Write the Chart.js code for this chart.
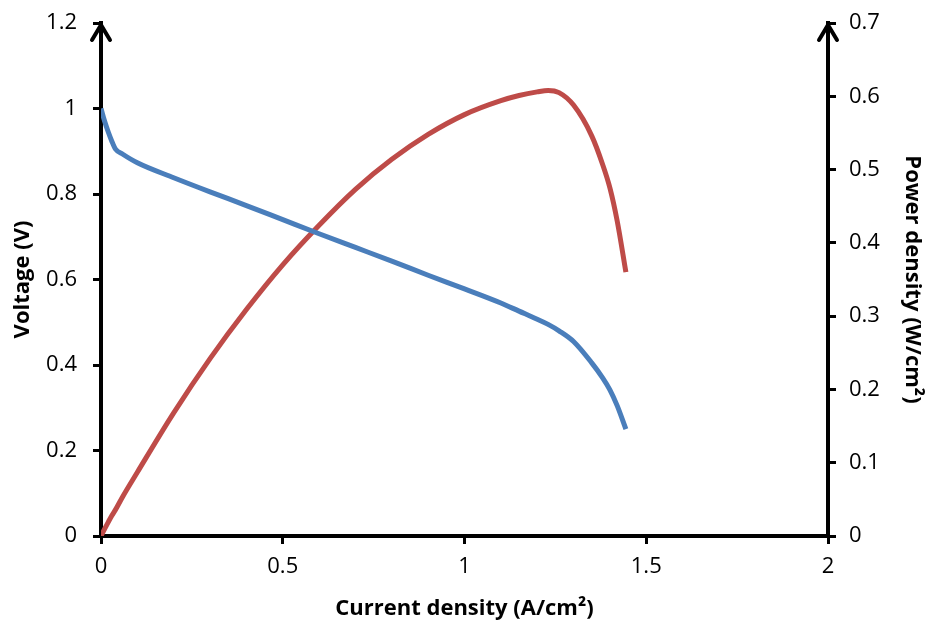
<!DOCTYPE html>
<html>
<head>
<meta charset="utf-8">
<script src="https://cdn.jsdelivr.net/npm/chart.js@4"></script>
<style>
  body { margin: 0; background: #fff; }
  #wrap { width: 928px; height: 626px; }
</style>
</head>
<body>
<div id="wrap"><canvas id="chart"></canvas></div>
<script>
// current density (A/cm2)
const current = [0, 0.01, 0.02, 0.03, 0.04, 0.06, 0.1, 0.2, 0.3, 0.4, 0.5, 0.6, 0.7, 0.8, 0.9, 1.0, 1.1, 1.15, 1.2, 1.23, 1.26, 1.3, 1.35, 1.38, 1.4, 1.42, 1.444];
// voltage (V)
const voltage = [1.0, 0.97, 0.945, 0.923, 0.905, 0.893, 0.873, 0.838, 0.805, 0.773, 0.74, 0.707, 0.675, 0.643, 0.61, 0.578, 0.545, 0.526, 0.507, 0.495, 0.48, 0.455, 0.405, 0.37, 0.342, 0.305, 0.25];
// power density (W/cm2)
const power = [0, 0.0097, 0.019, 0.028, 0.036, 0.054, 0.087, 0.168, 0.242, 0.309, 0.37, 0.424, 0.473, 0.514, 0.548, 0.575, 0.594, 0.601, 0.606, 0.608, 0.605, 0.588, 0.546, 0.507, 0.475, 0.43, 0.36];

const xTicks = [0, 0.5, 1, 1.5, 2];

const tickFont = { family: "'Open Sans', 'Noto Sans', sans-serif", size: 22 };
const titleFont = { family: "'Open Sans', 'Noto Sans', sans-serif", size: 22, weight: 'bold' };
const fmt = v => String(Math.round(v * 10) / 10);

// fixed box sizes so the plot area sits where it does in the picture
const fitY = w => s => { s.width = w; s.paddingTop = 0; s.paddingBottom = 0; };

// arrow heads on top of both y axes
const arrows = {
    id: 'arrows',
    afterDraw(chart) {
        const c = chart.ctx;
        const top = chart.chartArea.top;
        [chart.chartArea.left, chart.chartArea.right].forEach(x => {
            c.save();
            c.strokeStyle = '#000';
            c.lineWidth = 4;
            c.lineCap = 'round';
            c.beginPath();
            c.moveTo(x - 9, top + 17);
            c.lineTo(x, top + 2);
            c.lineTo(x + 9, top + 17);
            c.stroke();
            c.restore();
        });
    }
};

const ctx = document.getElementById('chart').getContext('2d');
new Chart(ctx, {
    type: 'line',
    data: {
        datasets: [{
            label: 'Voltage',
            data: current.map((x, i) => ({ x: x, y: voltage[i] })),
            borderColor: '#4a7ebb',
            borderWidth: 5,
            pointRadius: 0,
            cubicInterpolationMode: 'monotone',
            yAxisID: 'y'
        }, {
            label: 'Power density',
            data: current.map((x, i) => ({ x: x, y: power[i] })),
            borderColor: '#be4b48',
            borderWidth: 5,
            pointRadius: 0,
            cubicInterpolationMode: 'monotone',
            yAxisID: 'y1'
        }]
    },
    options: {
        responsive: true,
        maintainAspectRatio: false,
        animation: false,
        layout: { padding: { top: 23, right: 0, left: 0, bottom: 0 } },
        plugins: { legend: { display: false }, tooltip: { enabled: false } },
        scales: {
            x: {
                type: 'linear',
                min: 0, max: 2,
                afterBuildTicks: s => { s.ticks = xTicks.map(v => ({ value: v })); },
                afterFit: s => { s.height = 90; s.paddingLeft = 0; s.paddingRight = 0; },
                border: { display: true, color: '#000', width: 4 },
                grid: { drawOnChartArea: false, drawTicks: true, tickLength: 8, color: '#000', lineWidth: 3 },
                ticks: { color: '#000', font: tickFont, padding: 10, maxRotation: 0, callback: fmt },
                title: { display: true, text: 'Current density (A/cm²)', color: '#000', font: titleFont, padding: { top: 0, bottom: 4 } }
            },
            y: {
                position: 'left',
                min: 0, max: 1.2,
                afterFit: fitY(101),
                border: { display: true, color: '#000', width: 4 },
                grid: { drawOnChartArea: false, drawTicks: true, tickLength: 8, color: '#000', lineWidth: 3 },
                ticks: { stepSize: 0.2, color: '#000', font: tickFont, padding: 16, callback: fmt },
                title: { display: true, text: 'Voltage (V)', color: '#000', font: titleFont, padding: { top: 10, bottom: 0 } }
            },
            y1: {
                position: 'right',
                min: 0, max: 0.7,
                afterFit: fitY(100),
                border: { display: true, color: '#000', width: 4 },
                grid: { drawOnChartArea: false, drawTicks: true, tickLength: 8, color: '#000', lineWidth: 3 },
                ticks: { stepSize: 0.1, color: '#000', font: tickFont, padding: 13, callback: fmt },
                title: { display: true, text: 'Power density (W/cm²)', color: '#000', font: titleFont, padding: { top: 3, bottom: 0 } }
            }
        }
    },
    plugins: [arrows]
});
</script>
</body>
</html>
